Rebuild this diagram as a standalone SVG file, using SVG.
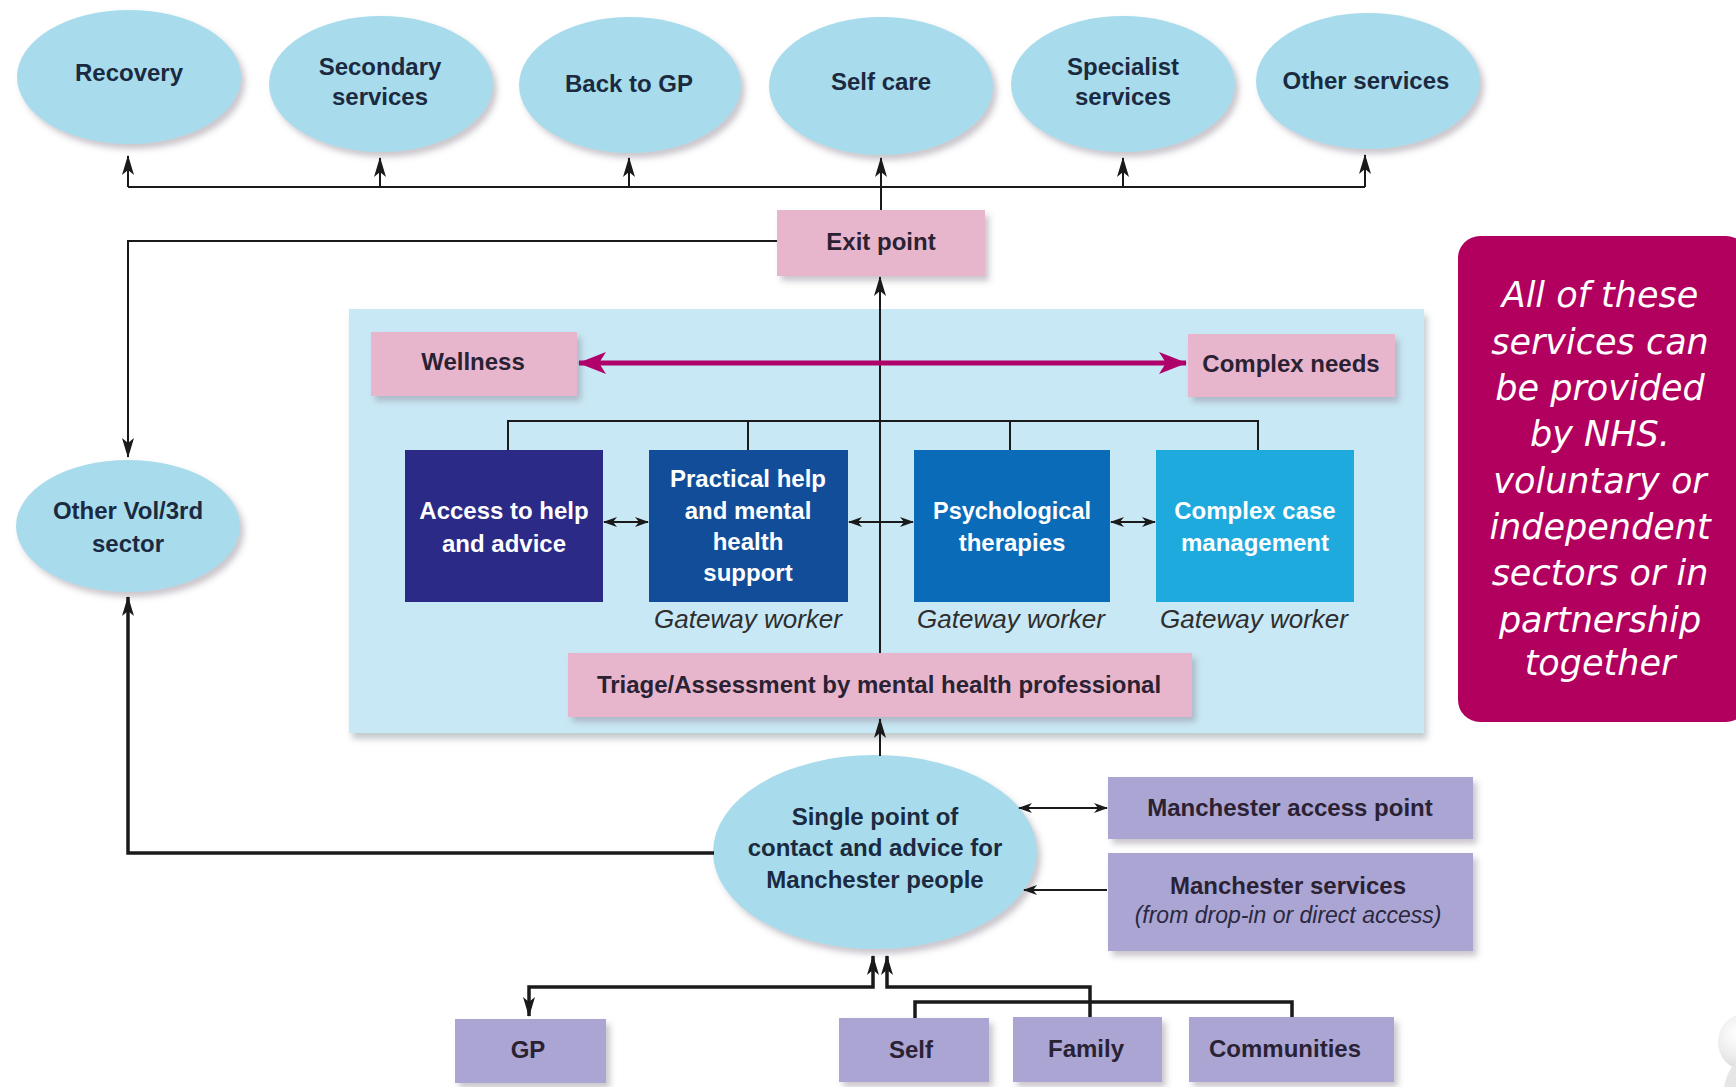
<svg xmlns="http://www.w3.org/2000/svg" width="1736" height="1087" viewBox="0 0 1736 1087">
<defs>
<style>
.bg{fill:#ffffff}
.ell{fill:#a8dcec;filter:url(#sh)}
.pink{fill:#e8b6cc;filter:url(#sh)}
.lav{fill:#aaa5d3;filter:url(#sh)}
.panel{fill:#c9e8f5;filter:url(#sh2)}
.t{font-family:"Liberation Sans",Arial,sans-serif;font-weight:bold;font-size:24px;fill:#1b2a40;text-anchor:middle}
.tp{font-family:"Liberation Sans",Arial,sans-serif;font-weight:bold;font-size:24px;fill:#2a2233;text-anchor:middle}
.tw{font-family:"Liberation Sans",Arial,sans-serif;font-weight:bold;font-size:24px;fill:#ffffff;text-anchor:middle}
.gw{font-family:"Liberation Sans",Arial,sans-serif;font-style:italic;font-size:26px;fill:#2e2e2e;text-anchor:middle}
.ti{font-family:"Liberation Sans",Arial,sans-serif;font-style:italic;font-size:23px;fill:#2a2840;text-anchor:middle}
.hand{font-family:"DejaVu Sans",sans-serif;font-style:italic;font-size:35px;fill:#ffffff;text-anchor:middle}
.ln{fill:none;stroke:#1a1a1a;stroke-width:2}
.lnb{fill:none;stroke:#1a1a1a;stroke-width:3.5}
.mag{fill:none;stroke:#b0006a;stroke-width:5}
</style>
<filter id="sh" x="-10%" y="-10%" width="125%" height="130%">
<feDropShadow dx="4" dy="5" stdDeviation="3" flood-color="#8a8090" flood-opacity="0.45"/>
</filter>
<filter id="sh2" x="-5%" y="-5%" width="110%" height="115%">
<feDropShadow dx="3" dy="6" stdDeviation="3" flood-color="#7a8a90" flood-opacity="0.45"/>
</filter>
<radialGradient id="blob" cx="0.35" cy="0.35" r="0.7">
<stop offset="0" stop-color="#ffffff"/>
<stop offset="0.6" stop-color="#ececec"/>
<stop offset="1" stop-color="#d6d6d6"/>
</radialGradient>
<marker id="ah" viewBox="0 0 20 12" refX="19" refY="6" markerWidth="20" markerHeight="12" markerUnits="userSpaceOnUse" orient="auto-start-reverse">
<path d="M0,0 L20,6 L0,12 L5,6 z" fill="#1a1a1a"/>
</marker>
<marker id="ahs" viewBox="0 0 14 10" refX="13" refY="5" markerWidth="14" markerHeight="10" markerUnits="userSpaceOnUse" orient="auto-start-reverse">
<path d="M0,0 L14,5 L0,10 L4,5 z" fill="#1a1a1a"/>
</marker>
<marker id="ahm" viewBox="0 0 28 22" refX="27" refY="11" markerWidth="28" markerHeight="22" markerUnits="userSpaceOnUse" orient="auto-start-reverse">
<path d="M0,0 L28,11 L0,22 L7,11 z" fill="#b0006a"/>
</marker>
</defs>
<rect class="bg" x="0" y="0" width="1736" height="1087"/>

<g id="panel">
<rect class="panel" x="349" y="309" width="1075" height="424"/>
</g>

<g id="recovery">
<ellipse class="ell" cx="129" cy="77" rx="112" ry="67"/>
<text class="t" x="129" y="81">Recovery</text>
</g>
<g id="secondary">
<ellipse class="ell" cx="381" cy="84" rx="112" ry="68"/>
<text class="t" x="380" y="75">Secondary</text>
<text class="t" x="380" y="105">services</text>
</g>
<g id="backgp">
<ellipse class="ell" cx="630" cy="85" rx="111" ry="68"/>
<text class="t" x="629" y="92">Back to GP</text>
</g>
<g id="selfcare">
<ellipse class="ell" cx="881" cy="86" rx="112" ry="69"/>
<text class="t" x="881" y="90">Self care</text>
</g>
<g id="specialist">
<ellipse class="ell" cx="1123" cy="84" rx="112" ry="68"/>
<text class="t" x="1123" y="75">Specialist</text>
<text class="t" x="1123" y="105">services</text>
</g>
<g id="otherservices">
<ellipse class="ell" cx="1368" cy="81" rx="112" ry="68"/>
<text class="t" x="1366" y="89">Other services</text>
</g>

<g id="exitpoint">
<rect class="pink" x="777" y="210" width="208" height="66"/>
<text class="tp" x="881" y="250">Exit point</text>
</g>

<g id="othervol">
<ellipse class="ell" cx="128" cy="526" rx="112" ry="66"/>
<text class="t" x="128" y="519">Other Vol/3rd</text>
<text class="t" x="128" y="552">sector</text>
</g>

<g id="wellness">
<rect class="pink" x="371" y="332" width="206" height="64"/>
<text class="tp" x="473" y="370">Wellness</text>
</g>
<g id="complexneeds">
<rect class="pink" x="1188" y="334" width="207" height="63"/>
<text class="tp" x="1291" y="372">Complex needs</text>
</g>

<g id="access">
<rect x="405" y="450" width="198" height="152" fill="#2b2a87"/>
<text class="tw" x="504" y="519">Access to help</text>
<text class="tw" x="504" y="552">and advice</text>
</g>
<g id="practical">
<rect x="649" y="450" width="199" height="152" fill="#114d98"/>
<text class="tw" x="748" y="487">Practical help</text>
<text class="tw" x="748" y="519">and mental</text>
<text class="tw" x="748" y="550">health</text>
<text class="tw" x="748" y="581">support</text>
<text class="gw" x="748" y="628">Gateway worker</text>
</g>
<g id="psych">
<rect x="914" y="450" width="196" height="152" fill="#0a6cb8"/>
<text class="tw" x="1012" y="519" textLength="158" lengthAdjust="spacingAndGlyphs">Psychological</text>
<text class="tw" x="1012" y="551">therapies</text>
<text class="gw" x="1011" y="628">Gateway worker</text>
</g>
<g id="complexcase">
<rect x="1156" y="450" width="198" height="152" fill="#1faade"/>
<text class="tw" x="1255" y="519">Complex case</text>
<text class="tw" x="1255" y="551">management</text>
<text class="gw" x="1254" y="628">Gateway worker</text>
</g>

<g id="triage">
<rect class="pink" x="568" y="653" width="624" height="64"/>
<text class="tp" x="879" y="693">Triage/Assessment by mental health professional</text>
</g>

<g id="singlepoint">
<ellipse class="ell" cx="875" cy="852" rx="162" ry="97"/>
<text class="t" x="875" y="825">Single point of</text>
<text class="t" x="875" y="856">contact and advice for</text>
<text class="t" x="875" y="888">Manchester people</text>
</g>

<g id="mapoint">
<rect class="lav" x="1108" y="777" width="365" height="62"/>
<text class="tp" x="1290" y="816">Manchester access point</text>
</g>
<g id="mservices">
<rect class="lav" x="1108" y="853" width="365" height="98"/>
<text class="tp" x="1288" y="894">Manchester services</text>
<text class="ti" x="1288" y="923">(from drop-in or direct access)</text>
</g>

<g id="gp">
<rect class="lav" x="455" y="1019" width="151" height="64"/>
<text class="tp" x="528" y="1058">GP</text>
</g>
<g id="self">
<rect class="lav" x="839" y="1018" width="150" height="64"/>
<text class="tp" x="911" y="1058">Self</text>
</g>
<g id="family">
<rect class="lav" x="1013" y="1017" width="149" height="65"/>
<text class="tp" x="1086" y="1057">Family</text>
</g>
<g id="communities">
<rect class="lav" x="1189" y="1017" width="205" height="65"/>
<text class="tp" x="1285" y="1057">Communities</text>
</g>

<g id="note">
<rect x="1458" y="236" width="290" height="486" rx="22" ry="22" fill="#b2005f"/>
<text class="hand" x="1600" y="307">All of these</text>
<text class="hand" x="1600" y="354">services can</text>
<text class="hand" x="1600" y="400">be provided</text>
<text class="hand" x="1600" y="446">by NHS.</text>
<text class="hand" x="1600" y="493">voluntary or</text>
<text class="hand" x="1600" y="539">independent</text>
<text class="hand" x="1600" y="585">sectors or in</text>
<text class="hand" x="1600" y="632">partnership</text>
<text class="hand" x="1600" y="675">together</text>
</g>

<g id="corner">
<ellipse cx="1744" cy="1042" rx="26" ry="28" fill="url(#blob)"/>
<path d="M1724,1087 Q1728,1068 1736,1064 L1736,1087 z" fill="#e6e6e6"/>
</g>

<g id="connectors">
<path class="ln" d="M128,187 H1365"/>
<path class="ln" d="M128,187 V156" marker-end="url(#ah)"/>
<path class="ln" d="M380,187 V158" marker-end="url(#ah)"/>
<path class="ln" d="M629,187 V158" marker-end="url(#ah)"/>
<path class="ln" d="M881,210 V158" marker-end="url(#ah)"/>
<path class="ln" d="M1123,187 V158" marker-end="url(#ah)"/>
<path class="ln" d="M1365,187 V155" marker-end="url(#ah)"/>
<path class="ln" d="M777,241 H128 V457" marker-end="url(#ah)"/>
<path class="ln" d="M880,653 V277" marker-end="url(#ah)"/>
<path class="mag" d="M579,363 H1186" marker-start="url(#ahm)" marker-end="url(#ahm)"/>
<path class="ln" d="M508,450 V421 H1258 V450"/>
<path class="ln" d="M748,421 V450"/>
<path class="ln" d="M1010,421 V450"/>
<path class="ln" d="M604,522 H648" marker-start="url(#ahs)" marker-end="url(#ahs)"/>
<path class="ln" d="M849,522 H913" marker-start="url(#ahs)" marker-end="url(#ahs)"/>
<path class="ln" d="M1111,522 H1155" marker-start="url(#ahs)" marker-end="url(#ahs)"/>
<path class="ln" d="M880,756 V719" marker-end="url(#ah)"/>
<path class="lnb" d="M714,853 H128 V597" marker-end="url(#ah)"/>
<path class="ln" d="M1019,808 H1107" marker-start="url(#ahs)" marker-end="url(#ahs)"/>
<path class="ln" d="M1107,890 H1024" marker-end="url(#ahs)"/>
<path class="lnb" d="M529,1016 V987 H873 V956" marker-start="url(#ah)" marker-end="url(#ah)"/>
<path class="lnb" d="M887,956 V987 H1090 V1017" marker-start="url(#ah)"/>
<path class="lnb" d="M915,1018 V1002 H1292 V1017"/>
</g>
</svg>
